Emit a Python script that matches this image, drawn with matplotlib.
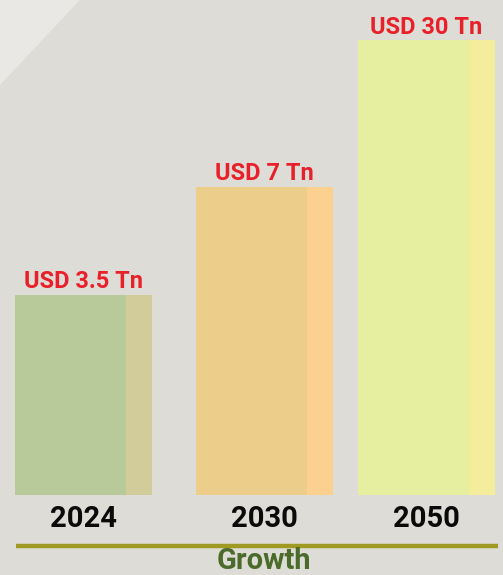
import matplotlib.pyplot as plt
from matplotlib.patches import Polygon

years = ['2024', '2030', '2050']
labels = ['USD 3.5 Tn', 'USD 7 Tn', 'USD 30 Tn']
values = [3.5, 7, 30]  # USD trillion (labels above)
heights = [200, 308, 455]  # drawn bar heights (not to scale)
axis_title = 'Growth'

bar_colors = ['#b8c99a', '#edcd8a', '#e6ee9f']
edge_colors = ['#d2cc9a', '#fcd08f', '#f4ee9c']
xpos = [83.5, 264.5, 426.5]
width = 137
strip = 26

fig = plt.figure(figsize=(5.03, 5.75), dpi=100)
fig.patch.set_facecolor('#dedcd7')
ax = fig.add_axes([0, 0, 1, 1])
ax.set_xlim(0, 503)
ax.set_ylim(-80, 495)
ax.axis('off')

# light corner in top-left
ax.add_patch(Polygon([[0, 495], [80, 495], [0, 410]], closed=True,
                     facecolor='#e9e8e4', edgecolor='none', zorder=0))

ax.bar(xpos, heights, width=width, color=bar_colors, zorder=2)
# lighter stripe on right side of each bar
ax.bar([x + width / 2 - strip / 2 for x in xpos], heights, width=strip,
       color=edge_colors, zorder=3)

for x, h, lab in zip(xpos, heights, labels):
    ax.text(x, h + 13, lab, ha='center', va='center', color='#e8202a',
            fontsize=17, fontweight='bold', family='Roboto', zorder=4)

for x, yr in zip(xpos, years):
    ax.text(x, -24, yr, ha='center', va='center', color='#0a0a0a',
            fontsize=21, fontweight='bold', family='Roboto')

ax.plot([16, 498], [-51, -51], color='#a09a25', lw=3.2, solid_capstyle='butt')
ax.text(264, -74, axis_title, ha='center', va='baseline', color='#4b6b2a',
        fontsize=21, fontweight='bold', family='Roboto')

fig.savefig('out.png', dpi=100, facecolor=fig.get_facecolor())
